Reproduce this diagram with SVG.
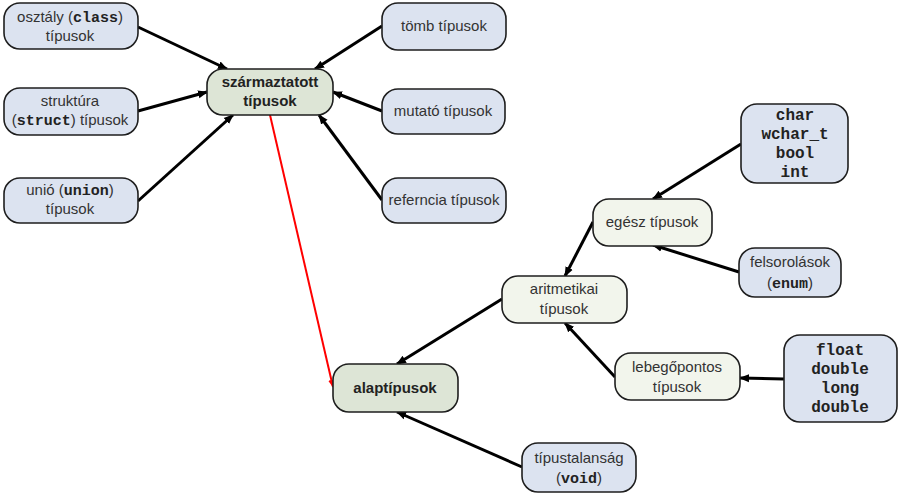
<svg xmlns="http://www.w3.org/2000/svg" width="900" height="497" viewBox="0 0 900 497">
<defs>
<marker id="ah" markerUnits="userSpaceOnUse" markerWidth="10" markerHeight="10" viewBox="0 0 10 10" refX="9" refY="5" orient="auto">
<path d="M0,1 L10,5 L0,9 z" fill="#000"/>
</marker>
<marker id="ahr" markerUnits="userSpaceOnUse" markerWidth="8" markerHeight="8" viewBox="0 0 10 10" refX="9" refY="5" orient="auto">
<path d="M0,1 L10,5 L0,9 z" fill="#f00"/>
</marker>
</defs>
<style>
.n rect{stroke:#1e1e1e;stroke-width:1.6}
.blue rect{fill:#dce3f0}
.green rect{fill:#dde5d6}
.light rect{fill:#f2f5ec}
text{font-family:"Liberation Sans",Arial,sans-serif;font-size:15px;fill:#333;text-anchor:middle}
.b{font-weight:bold;fill:#222}
.m{font-family:"Liberation Mono","Courier New",monospace;font-weight:bold;font-size:15px;fill:#222}
.mm{font-family:"Liberation Mono","Courier New",monospace;font-weight:bold;font-size:16px;fill:#222}
#edges line{stroke:#000;stroke-width:3;marker-end:url(#ah)}
#edges line.red{stroke:#f00;stroke-width:2;marker-end:url(#ahr)}
</style>
<g id="edges">
<line x1="138" y1="27" x2="227" y2="69"/>
<line x1="138" y1="111" x2="207" y2="92"/>
<line x1="138" y1="201" x2="233" y2="115"/>
<line x1="382" y1="26" x2="315" y2="69"/>
<line x1="382" y1="111" x2="333" y2="92"/>
<line x1="382" y1="200" x2="319" y2="115"/>
<line x1="741" y1="144" x2="653" y2="199"/>
<line x1="739" y1="272" x2="653" y2="245"/>
<line x1="593" y1="222" x2="565" y2="276"/>
<line x1="502" y1="299" x2="397" y2="364"/>
<line x1="615" y1="377" x2="565" y2="323"/>
<line x1="784" y1="379" x2="740" y2="378"/>
<line x1="522" y1="467" x2="397" y2="412"/>
<line class="red" x1="270" y1="115" x2="333" y2="387"/>
</g>
<g id="n-class" class="n blue"><rect x="4" y="3" width="134" height="46" rx="16"/>
<text x="70" y="22">osztály (<tspan class="m">class</tspan>)</text><text x="70" y="41">típusok</text></g>
<g id="n-struct" class="n blue"><rect x="4" y="88" width="134" height="47" rx="16"/>
<text x="70" y="106">struktúra</text><text x="70" y="125">(<tspan class="m">struct</tspan>) típusok</text></g>
<g id="n-union" class="n blue"><rect x="4" y="178" width="134" height="45" rx="16"/>
<text x="70" y="195">unió (<tspan class="m">union</tspan>)</text><text x="70" y="214">típusok</text></g>
<g id="n-szarm" class="n green"><rect x="207" y="69" width="126" height="46" rx="16"/>
<text class="b" x="270" y="87">származtatott</text><text class="b" x="270" y="106">típusok</text></g>
<g id="n-tomb" class="n blue"><rect x="382" y="3" width="124" height="47" rx="16"/>
<text x="444" y="31">tömb típusok</text></g>
<g id="n-mutato" class="n blue"><rect x="382" y="89" width="123" height="45" rx="16"/>
<text x="443" y="116">mutató típusok</text></g>
<g id="n-ref" class="n blue"><rect x="382" y="178" width="124" height="45" rx="16"/>
<text x="444" y="205">referncia típusok</text></g>
<g id="n-char" class="n blue"><rect x="741" y="104" width="107" height="79" rx="16"/>
<text class="mm" x="795" y="120">char</text><text class="mm" x="795" y="139">wchar_t</text><text class="mm" x="795" y="158">bool</text><text class="mm" x="795" y="177">int</text></g>
<g id="n-egesz" class="n light"><rect x="593" y="199" width="119" height="47" rx="16"/>
<text x="652" y="227">egész típusok</text></g>
<g id="n-enum" class="n blue"><rect x="739" y="248" width="102" height="49" rx="16"/>
<text x="790" y="267">felsorolások</text><text x="790" y="288">(<tspan class="m">enum</tspan>)</text></g>
<g id="n-arit" class="n light"><rect x="502" y="276" width="125" height="47" rx="16"/>
<text x="564" y="294">aritmetikai</text><text x="564" y="314">típusok</text></g>
<g id="n-alap" class="n green"><rect x="333" y="364" width="125" height="48" rx="16"/>
<text class="b" x="395" y="393">alaptípusok</text></g>
<g id="n-lebego" class="n light"><rect x="615" y="353" width="125" height="47" rx="16"/>
<text x="677" y="372">lebegőpontos</text><text x="677" y="392">típusok</text></g>
<g id="n-float" class="n blue"><rect x="784" y="335" width="113" height="87" rx="16"/>
<text class="mm" x="840" y="355">float</text><text class="mm" x="840" y="374">double</text><text class="mm" x="840" y="393">long</text><text class="mm" x="840" y="412">double</text></g>
<g id="n-void" class="n blue"><rect x="522" y="443" width="114" height="49" rx="16"/>
<text x="579" y="463">típustalanság</text><text x="579" y="483">(<tspan class="m">void</tspan>)</text></g>
</svg>
